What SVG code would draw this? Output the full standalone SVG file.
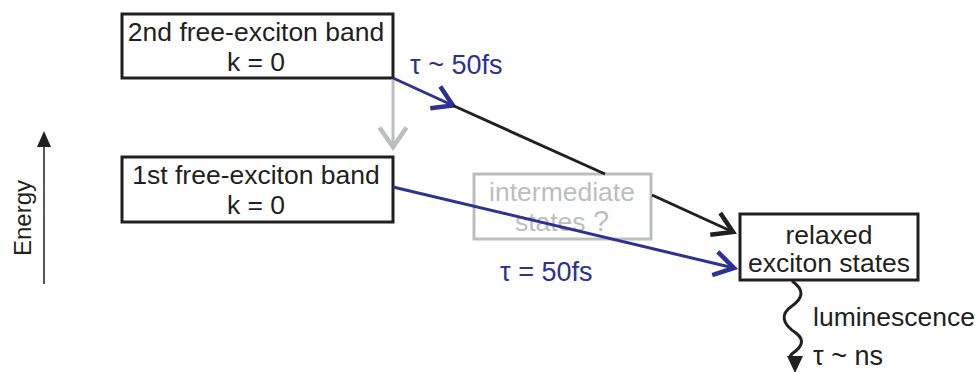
<svg xmlns="http://www.w3.org/2000/svg" width="975" height="372" viewBox="0 0 975 372">
<defs>
<style>
.box{fill:#fff;stroke:#231f20;stroke-width:3}
.gbox{fill:#fff;stroke:#bcbec0;stroke-width:3}
.t{font-family:"Liberation Sans",Arial,sans-serif;font-size:26.5px;fill:#231f20}
.gt{font-family:"Liberation Sans",Arial,sans-serif;font-size:26.5px;fill:#bcbec0}
.bt{font-family:"Liberation Sans",Arial,sans-serif;font-size:26.5px;fill:#2e3192}
.k{fill:none;stroke:#231f20;stroke-width:3}
.b{fill:none;stroke:#2e3192;stroke-width:3}
.g{fill:none;stroke:#bcbec0;stroke-width:3}
</style>
<marker id="mk" markerUnits="userSpaceOnUse" markerWidth="30" markerHeight="30" refX="0" refY="0" viewBox="-16 -10 20 20" orient="auto" overflow="visible">
<path d="M-13,-8 L0,0 L-13,8" fill="none" stroke="#231f20" stroke-width="3"/>
</marker>
<marker id="mb" markerUnits="userSpaceOnUse" markerWidth="30" markerHeight="30" refX="0" refY="0" viewBox="-16 -10 20 20" orient="auto" overflow="visible">
<path d="M-13,-8 L0,0 L-13,8" fill="none" stroke="#2e3192" stroke-width="3"/>
</marker>
<marker id="mg" markerUnits="userSpaceOnUse" markerWidth="30" markerHeight="30" refX="0" refY="0" viewBox="-16 -10 20 20" orient="auto" overflow="visible">
<path d="M-13,-9 L0,0 L-13,9" fill="none" stroke="#bcbec0" stroke-width="3"/>
</marker>
</defs>
<rect width="975" height="372" fill="#fff"/>
<g id="axis">
<line x1="44" y1="284" x2="44" y2="140" stroke="#231f20" stroke-width="1.5"/>
<path d="M44,131 L51,147 L37,147 Z" fill="#231f20"/>
<text class="t" transform="translate(31,218) rotate(-90)" text-anchor="middle" style="font-size:24px">Energy</text>
</g>
<g id="node-2nd">
<rect class="box" x="122" y="14" width="271" height="64"/>
<text class="t" x="256" y="41" text-anchor="middle">2nd free-exciton band</text>
<text class="t" x="256" y="71" text-anchor="middle">k = 0</text>
</g>
<g id="node-1st">
<rect class="box" x="122" y="157" width="271" height="65"/>
<text class="t" x="256" y="184" text-anchor="middle">1st free-exciton band</text>
<text class="t" x="256" y="214" text-anchor="middle">k = 0</text>
</g>
<g id="node-intermediate">
<rect class="gbox" x="474" y="174" width="177" height="65"/>
<text class="gt" x="562" y="201" text-anchor="middle">intermediate</text>
<text class="gt" x="562" y="231" text-anchor="middle">states <tspan style="font-size:29px">?</tspan></text>
</g>
<g id="node-relaxed">
<rect class="box" x="740" y="214" width="178" height="66"/>
<text class="t" x="829" y="244" text-anchor="middle">relaxed</text>
<text class="t" x="829" y="272" text-anchor="middle">exciton states</text>
</g>
<g id="connectors">
<line class="g" x1="393" y1="79" x2="393" y2="147" marker-end="url(#mg)"/>
<line class="b" x1="393" y1="78" x2="453" y2="105.5" marker-end="url(#mb)"/>
<line class="k" x1="453" y1="105.5" x2="605" y2="174"/>
<line class="k" x1="652" y1="195" x2="733" y2="232" marker-end="url(#mk)"/>
<line class="b" x1="393" y1="187" x2="734" y2="268" marker-end="url(#mb)"/>
<path class="k" d="M792,281 C805,290 803,298 792,306 C780,314 782,324 796,333 C805,340 802,347 793,353 C788,357 790,360 795,362"/>
<path d="M795,373 L787,356 L803,356 Z" fill="#231f20"/>
</g>
<g id="labels">
<text class="bt" x="410" y="74" style="font-size:27px">τ ~ 50fs</text>
<text class="bt" x="500" y="281" style="font-size:27px">τ = 50fs</text>
<text class="t" x="813" y="326">luminescence</text>
<text class="t" x="813" y="365" style="font-size:27px">τ ~ ns</text>
</g>
</svg>
